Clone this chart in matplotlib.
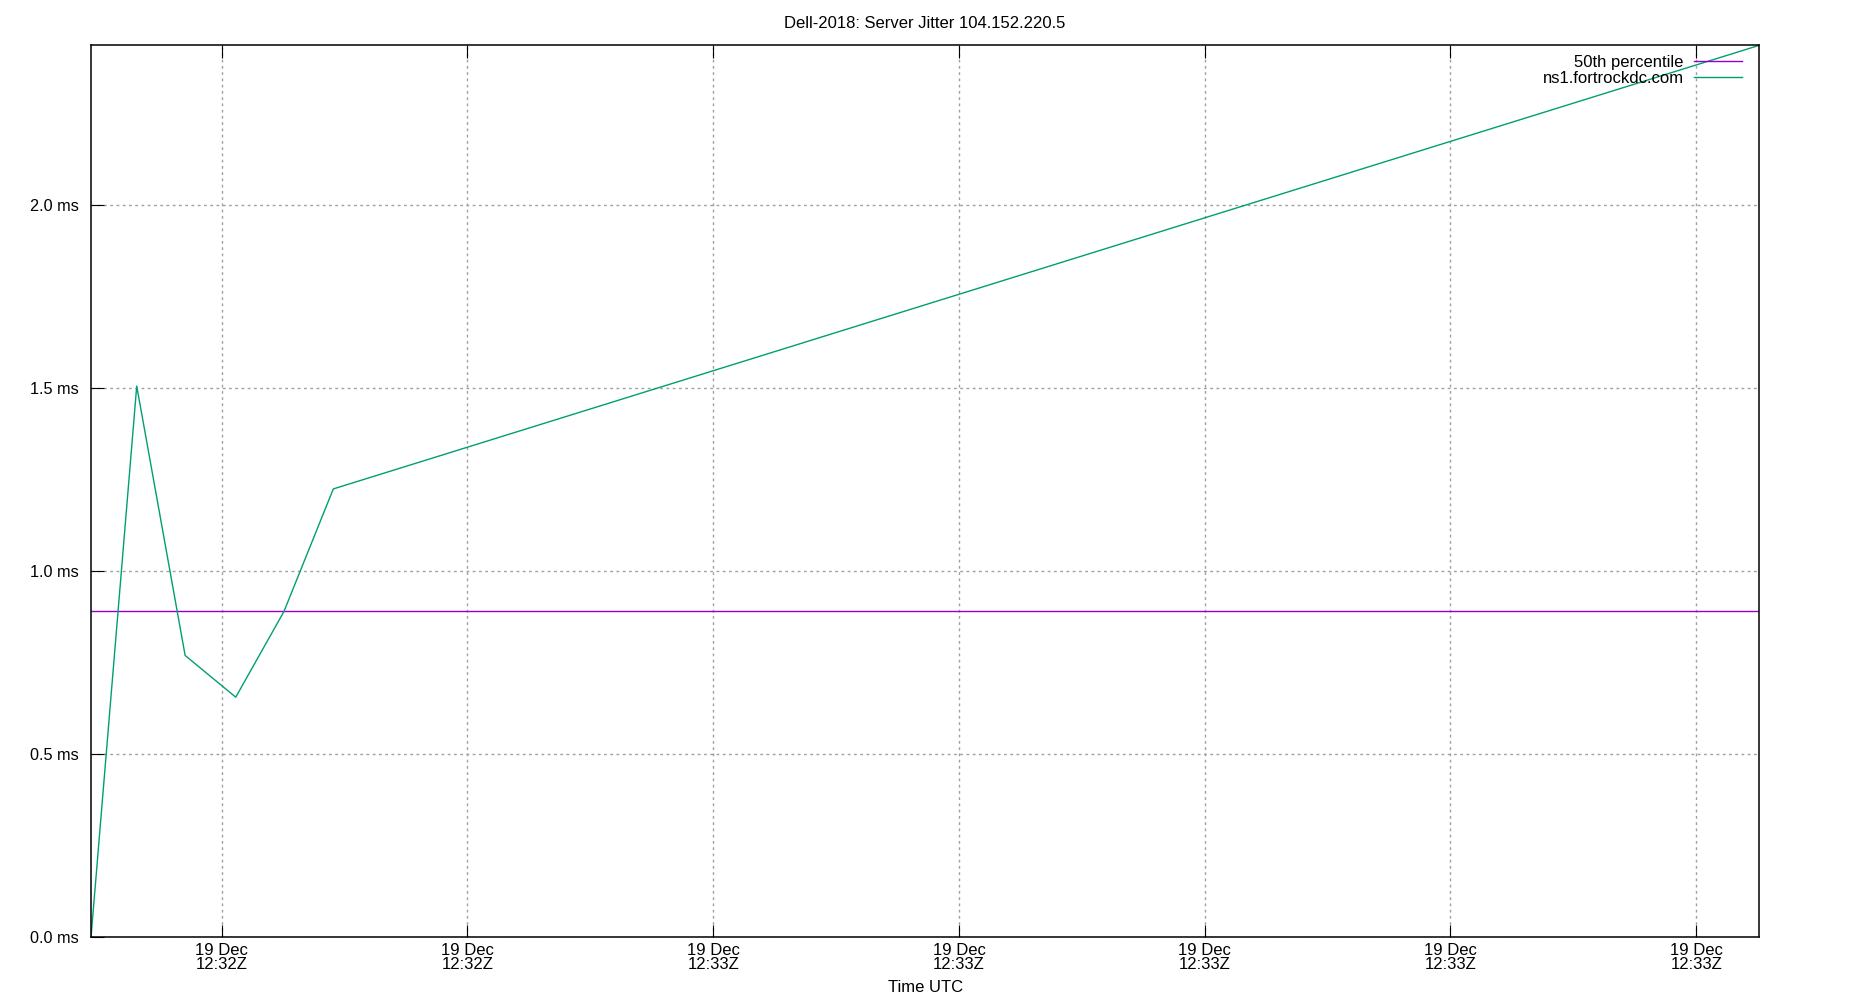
import numpy as np
import matplotlib
matplotlib.use('Agg')
import matplotlib.pyplot as plt
import matplotlib.dates as mdates
from datetime import datetime, timedelta

plt.rcParams['font.family'] = ['Liberation Sans', 'DejaVu Sans']

# sample times (seconds after 12:32:00 UTC) and jitter in ms
t_sec = [34.68, 36.54, 38.51, 40.57, 42.53, 44.54, 102.57]
jitter_ms = [0.0, 1.506, 0.770, 0.656, 0.890, 1.225, 2.437]
median_ms = 0.891
y_ticks = [0.0, 0.5, 1.0, 1.5, 2.0]
y_labels = ['0.0 ms', '0.5 ms', '1.0 ms', '1.5 ms', '2.0 ms']

base = datetime(2018, 12, 19, 12, 32, 0)
times = [base + timedelta(seconds=s) for s in t_sec]

fig = plt.figure(figsize=(18.5, 10), dpi=100)
ax = fig.add_axes([0.0492, 0.0627, 0.9018, 0.892])

ax.axhline(median_ms, color='#9400d3', lw=1.0, label='50th percentile')
ax.plot(times, jitter_ms, color='#009e73', lw=1.0, label='ns1.fortrockdc.com')

ax.set_xlim(times[0], times[-1])
ax.set_ylim(0, max(jitter_ms))
ax.set_yticks(y_ticks)
ax.set_yticklabels(y_labels)

ax.xaxis.set_major_locator(mdates.SecondLocator(bysecond=range(0, 60, 10)))
ax.xaxis.set_major_formatter(mdates.DateFormatter('%d %b\n%H:%MZ'))

ax.grid(True, color='#a0a0a0', linestyle=(0, (2, 2.5)), lw=1)
ax.tick_params(axis='x', direction='in', length=9, top=True, labelsize=12, pad=4)
ax.tick_params(axis='y', direction='in', length=9, right=False, labelsize=11.7, pad=9)
for lbl in ax.get_xticklabels():
    lbl.set_linespacing(0.9)
for sp in ax.spines.values():
    sp.set_linewidth(1.1)

ax.set_xlabel('Time UTC', fontsize=12, labelpad=6)
fig.text(0.5, 0.977, 'Dell-2018: Server Jitter 104.152.220.5', ha='center', va='center', fontsize=12)

leg = ax.legend(loc='upper right', frameon=False, fontsize=12, markerfirst=False,
                handlelength=2.9, handletextpad=0.6, borderpad=0, borderaxespad=0,
                labelspacing=0.05, bbox_to_anchor=(0.9897, 0.989))
for t in leg.get_texts():
    t.set_ha('right')

fig.savefig('out.png', dpi=100)
